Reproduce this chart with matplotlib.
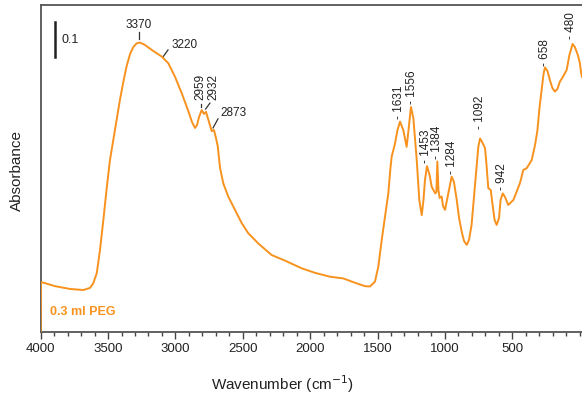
import matplotlib
matplotlib.use("Agg")
import matplotlib.pyplot as plt
from matplotlib.ticker import MultipleLocator

plt.rcParams['font.family'] = ['Liberation Sans', 'DejaVu Sans']

# Spectrum (wavenumber as read on the printed axis, absorbance)
wavenumber = [4000, 3998, 3894, 3783, 3684, 3634, 3610, 3584, 3560, 3535, 3510, 3486,
              3461, 3436, 3412, 3387, 3362, 3337, 3313, 3287, 3263, 3226, 3176, 3102,
              3053, 3003, 2953, 2907, 2877, 2855, 2840, 2825, 2805, 2788, 2773, 2751,
              2731, 2714, 2699, 2686, 2669, 2645, 2608, 2558, 2508, 2459, 2385, 2286,
              2187, 2063, 1964, 1853, 1754, 1655, 1593, 1556, 1519, 1494, 1469, 1445,
              1420, 1404, 1395, 1370, 1352, 1333, 1309, 1284, 1270, 1252, 1234, 1209,
              1190, 1172, 1159, 1148, 1133, 1114, 1098, 1072, 1063, 1056, 1048, 1039,
              1024, 1014, 999, 977, 950, 933, 912, 895, 875, 858, 838, 821, 802, 783,
              764, 752, 739, 720, 702, 691, 678, 660, 646, 631, 616, 598, 587, 571,
              554, 530, 492, 443, 418, 393, 356, 331, 313, 298, 282, 268, 257, 239,
              221, 202, 184, 165, 147, 124, 96, 76, 52, 35, 13, -2, -10, -17]
absorbance = [0.0, 0.143, 0.131, 0.123, 0.120, 0.126, 0.139, 0.168, 0.234, 0.320, 0.411, 0.491,
              0.549, 0.606, 0.663, 0.714, 0.760, 0.794, 0.814, 0.825, 0.827, 0.820, 0.806, 0.787,
              0.768, 0.729, 0.682, 0.634, 0.600, 0.583, 0.591, 0.614, 0.634, 0.623, 0.629, 0.600,
              0.574, 0.577, 0.554, 0.531, 0.469, 0.425, 0.387, 0.349, 0.311, 0.282, 0.253, 0.220,
              0.204, 0.182, 0.169, 0.158, 0.153, 0.139, 0.131, 0.130, 0.144, 0.187, 0.263, 0.329,
              0.396, 0.469, 0.501, 0.539, 0.577, 0.601, 0.577, 0.529, 0.577, 0.643, 0.611, 0.491,
              0.377, 0.334, 0.377, 0.434, 0.474, 0.449, 0.415, 0.396, 0.400, 0.487, 0.406, 0.383,
              0.387, 0.360, 0.349, 0.391, 0.444, 0.429, 0.377, 0.326, 0.286, 0.260, 0.249, 0.263, 0.306, 0.391,
              0.477, 0.529, 0.553, 0.540, 0.525, 0.477, 0.411, 0.406, 0.363, 0.320, 0.306, 0.326, 0.377, 0.396,
              0.386, 0.363, 0.377, 0.425, 0.463, 0.468, 0.491, 0.534, 0.577, 0.640, 0.691, 0.737, 0.756, 0.746,
              0.720, 0.697, 0.687, 0.694, 0.715, 0.729, 0.749, 0.791, 0.823, 0.814, 0.791, 0.768, 0.743, 0.729]

# Vertical peak labels
vpeak_labels = ['1631', '1556', '1453', '1384', '1284', '1092', '942', '658', '480']
vpeak_x = [1341, 1246, 1142, 1061, 949, 739, 574, 257, 64]
vpeak_y = [0.609, 0.650, 0.483, 0.493, 0.450, 0.579, 0.407, 0.760, 0.836]

# Horizontal peak labels with leader lines
hpeak_labels = ['3370', '3220', '2873']
hpeak_x = [3270, 2929, 2569]
hpeak_y = [0.877, 0.820, 0.626]
hlead_x = [(3270, 3270), (3092, 3055), (2721, 2684)]
hlead_y = [(0.837, 0.857), (0.786, 0.806), (0.583, 0.609)]

# Rotated labels near the C-H region
rpeak_labels = ['2959', '2932']
rpeak_x = [2818, 2721]
rpeak_y = [0.700, 0.700]
rlead_x = [(2813, 2813), (2776, 2744)]
rlead_y = [(0.643, 0.651), (0.637, 0.654)]

orange = '#F7921E'
textc = '#222222'

fig = plt.figure(figsize=(5.82, 3.96), dpi=100)
ax = fig.add_axes([40.7 / 582, 1 - 332 / 396, 1 - 40.7 / 582, 327 / 396])

ax.plot(wavenumber, absorbance, color=orange, lw=1.4, solid_joinstyle='round', zorder=3)
ax.set_xlim(4000, -17.6)
ax.set_ylim(0, 327 / 350)

ax.xaxis.set_major_locator(MultipleLocator(500))
ax.xaxis.set_minor_locator(MultipleLocator(100))
ax.set_xticks([4000, 3500, 3000, 2500, 2000, 1500, 1000, 500])
ax.set_yticks([])
ax.tick_params(axis='x', which='major', direction='out', length=5, width=1.0,
               color='#444444', labelsize=9.5, labelcolor=textc, pad=3)
ax.tick_params(axis='x', which='minor', direction='out', length=3, width=1.0, color='#444444')
for s in ['left', 'bottom', 'top']:
    ax.spines[s].set_color('#555555')
    ax.spines[s].set_linewidth(1.3)
ax.spines['right'].set_visible(False)

ax.set_xlabel('Wavenumber (cm$^{-1}$)', fontsize=11, color=textc)
ax.xaxis.set_label_coords(0.446, -0.125)
ax.set_ylabel('Absorbance', fontsize=11, color=textc)
ax.yaxis.set_label_coords(-0.030, 0.495)

for lab, x, y in zip(vpeak_labels, vpeak_x, vpeak_y):
    ax.text(x, y, '- ' + lab, rotation=90, ha='center', va='bottom',
            fontsize=8.5, color=textc)
for lab, x, y in zip(hpeak_labels, hpeak_x, hpeak_y):
    ax.text(x, y, lab, ha='center', va='center', fontsize=8.5, color=textc)
for lx, ly in zip(hlead_x, hlead_y):
    ax.plot(lx, ly, color='#333333', lw=0.9)
for lab, x, y in zip(rpeak_labels, rpeak_x, rpeak_y):
    ax.text(x, y, lab, rotation=90, ha='center', va='center', fontsize=8.5, color=textc)
for lx, ly in zip(rlead_x, rlead_y):
    ax.plot(lx, ly, color='#333333', lw=0.9)

# Scale bar
ax.plot([3894, 3894], [0.786, 0.886], color='#222222', lw=1.8)
ax.text(3842, 0.833, '0.1', ha='left', va='center', fontsize=9, color=textc)

ax.text(3931, 0.057, '0.3 ml PEG', ha='left', va='center', fontsize=9,
        fontweight='bold', color=orange)

fig.savefig('out.png', dpi=100)
